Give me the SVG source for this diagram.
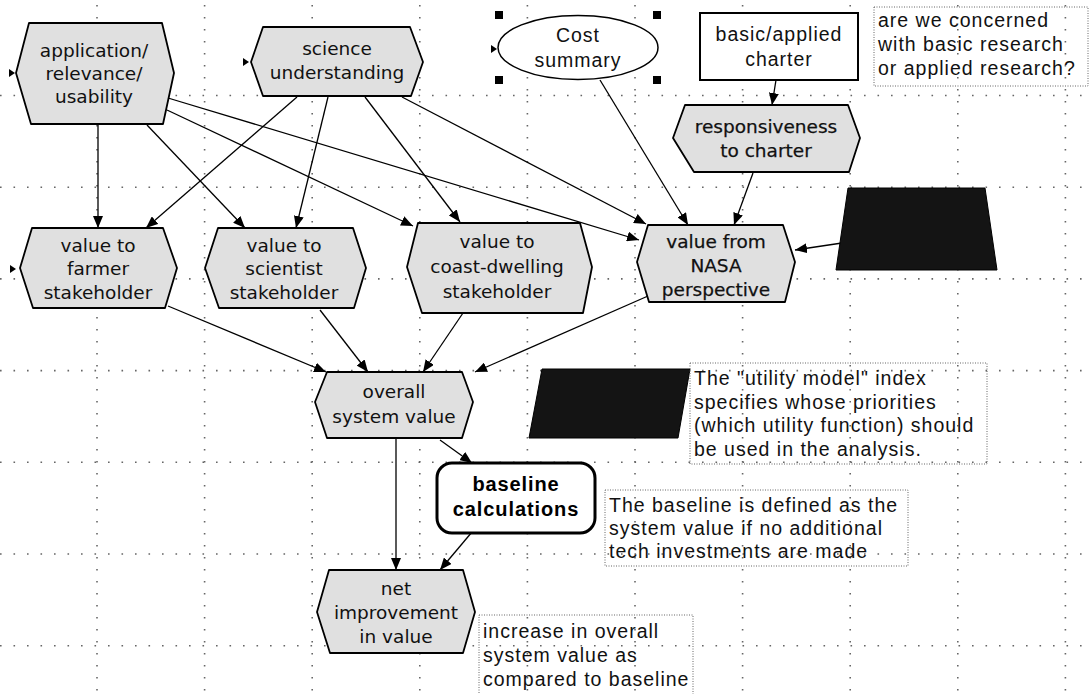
<svg xmlns="http://www.w3.org/2000/svg" width="1090" height="694" viewBox="0 0 1090 694">
<defs>
<marker id="arr" markerWidth="13" markerHeight="10" refX="12" refY="5" orient="auto" markerUnits="userSpaceOnUse"><path d="M0,0 L12,5 L0,10 z" fill="#000"/></marker>
</defs>
<style>
.gh{stroke:#666;stroke-width:1.6;stroke-dasharray:1.6 11.9;fill:none}
.gv{stroke:#666;stroke-width:1.6;stroke-dasharray:1.6 10.4;fill:none}
.hex{fill:#e0e0e0;stroke:#000;stroke-width:1.8;stroke-linejoin:round}
.nt{font-family:"DejaVu Sans",Verdana,sans-serif;font-size:18.5px;fill:#111;text-anchor:middle}
.nb{stroke:#111;stroke-width:0.25}
.pl{font-family:"Liberation Sans",Arial,sans-serif;font-size:19.5px;letter-spacing:1px;fill:#111;text-anchor:middle}
.note{fill:none;stroke:#666;stroke-width:1;stroke-dasharray:1 1.5}
.nx{font-family:"Liberation Sans",Arial,sans-serif;font-size:19.5px;letter-spacing:1px;fill:#111}
.c{stroke:#000;stroke-width:1.3;fill:none;marker-end:url(#arr)}
.in{fill:#000}
</style>
<rect width="1090" height="694" fill="#fff"/>
<g id="grid">
<path class="gh" d="M0,95.5H1090M0,187.2H1090M0,278.9H1090M0,370.6H1090M0,462.3H1090M0,554H1090M0,645.7H1090"/>
<path class="gv" d="M97,5V694M204.6,5V694M312.2,5V694M419.8,5V694M527.4,5V694M635,5V694M742.6,5V694M850.2,5V694M957.8,5V694M1065.4,5V694"/>
</g>
<g id="connectors">
<path class="c" d="M98,124L98,228"/>
<path class="c" d="M147,125L245,228"/>
<path class="c" d="M167,110L413,226"/>
<path class="c" d="M168,98L639,240"/>
<path class="c" d="M297,97L146,228"/>
<path class="c" d="M328,97L296,228"/>
<path class="c" d="M365,97L460,222"/>
<path class="c" d="M402,97L646,224"/>
<path class="c" d="M600,80L688,225"/>
<path class="c" d="M776,80L772,105"/>
<path class="c" d="M753,173L734,225"/>
<path class="c" d="M842,243L795,250"/>
<path class="c" d="M168,306L326,372"/>
<path class="c" d="M320,310L368,372"/>
<path class="c" d="M463,313L423,372"/>
<path class="c" d="M648,296L475,372"/>
<path class="c" d="M396,438L396,570"/>
<path class="c" d="M440,440L472,463"/>
<path class="c" d="M472,532L440,570"/>
</g>
<g id="n-application">
<path class="in" d="M9,69L15,73L9,77Z"/>
<path class="hex" d="M29,23L162,23L174,73L163,124L31,124L16,73Z"/>
<text class="nt" x="94" y="57">application/</text>
<text class="nt" x="94" y="80">relevance/</text>
<text class="nt" x="94" y="103">usability</text>
</g>
<g id="n-science">
<path class="in" d="M243,58L249,62L243,66Z"/>
<path class="hex" d="M263,27L410,27L423,62L411,96L263,96L251,62Z"/>
<text class="nt" x="337" y="55">science</text>
<text class="nt" x="337" y="79">understanding</text>
</g>
<g id="n-cost">
<path class="in" d="M491,45L497,49L491,53Z"/>
<ellipse cx="578" cy="47.5" rx="80" ry="32" fill="#fff" stroke="#000" stroke-width="1.5"/>
<rect x="495" y="11" width="8" height="8" fill="#000"/>
<rect x="653" y="11" width="8" height="8" fill="#000"/>
<rect x="495" y="76" width="8" height="8" fill="#000"/>
<rect x="653" y="76" width="8" height="8" fill="#000"/>
<text class="pl" x="578" y="42">Cost</text>
<text class="pl" x="578" y="67">summary</text>
</g>
<g id="n-charter">
<rect x="700" y="13" width="158" height="67" fill="#fff" stroke="#000" stroke-width="2"/>
<text class="pl" x="779" y="41">basic/applied</text>
<text class="pl" x="779" y="66">charter</text>
</g>
<g id="note-charter">
<rect class="note" x="874" y="7" width="214" height="79"/>
<text class="nx" x="878" y="27">are we concerned</text>
<text class="nx" x="878" y="51">with basic research</text>
<text class="nx" x="878" y="75">or applied research?</text>
</g>
<g id="n-responsiveness">
<path class="hex" d="M685,105L848,105L860,138L849,172L694,172L673,138Z"/>
<text class="nt nb" x="766" y="133">responsiveness</text>
<text class="nt nb" x="766" y="157">to charter</text>
</g>
<g id="n-farmer">
<path class="in" d="M10,265L16,269L10,273Z"/>
<path class="hex" d="M32,228L163,228L177,268L165,308L33,308L20,268Z"/>
<text class="nt" x="98" y="252">value to</text>
<text class="nt" x="98" y="275">farmer</text>
<text class="nt" x="98" y="299">stakeholder</text>
</g>
<g id="n-scientist">
<path class="hex" d="M218,228L353,228L366,268L354,308L219,308L205,268Z"/>
<text class="nt" x="284" y="252">value to</text>
<text class="nt" x="284" y="275">scientist</text>
<text class="nt" x="284" y="299">stakeholder</text>
</g>
<g id="n-coast">
<path class="hex" d="M418,223L580,223L592,267L583,313L422,313L407,267Z"/>
<text class="nt" x="497" y="248">value to</text>
<text class="nt" x="497" y="273">coast-dwelling</text>
<text class="nt" x="497" y="298">stakeholder</text>
</g>
<g id="n-nasa">
<path class="hex" d="M648,225L783,225L795,262L785,302L649,302L637,262Z"/>
<text class="nt nb" x="716" y="248">value from</text>
<text class="nt nb" x="716" y="272">NASA</text>
<text class="nt nb" x="716" y="296">perspective</text>
</g>
<g id="n-trapezoid">
<path d="M848,188L985,188L997,270L836,270Z" fill="#141414" stroke="#000" stroke-width="1"/>
</g>
<g id="n-overall">
<path class="hex" d="M327,372L462,372L473,402L462,438L327,438L315,402Z"/>
<text class="nt" x="394" y="398">overall</text>
<text class="nt" x="394" y="423">system value</text>
</g>
<g id="n-utility">
<path d="M542,369L690,369L678,438L529,438Z" fill="#141414" stroke="#000" stroke-width="1"/>
</g>
<g id="note-utility">
<rect class="note" x="690" y="363" width="297" height="101"/>
<text class="nx" x="694" y="385">The "utility model" index</text>
<text class="nx" x="694" y="409">specifies whose priorities</text>
<text class="nx" x="694" y="432">(which utility function) should</text>
<text class="nx" x="694" y="456">be used in the analysis.</text>
</g>
<g id="n-baseline">
<rect x="437" y="463" width="158" height="70" rx="15" ry="15" fill="#fff" stroke="#000" stroke-width="3"/>
<text x="516" y="491" font-family="Liberation Sans, Arial, sans-serif" font-size="20" font-weight="bold" letter-spacing="0.9" text-anchor="middle" fill="#000">baseline</text>
<text x="516" y="516" font-family="Liberation Sans, Arial, sans-serif" font-size="20" font-weight="bold" letter-spacing="0.9" text-anchor="middle" fill="#000">calculations</text>
</g>
<g id="note-baseline">
<rect class="note" x="605" y="490" width="303" height="76"/>
<text class="nx" x="609" y="512">The baseline is defined as the</text>
<text class="nx" x="609" y="535">system value if no additional</text>
<text class="nx" x="609" y="558">tech investments are made</text>
</g>
<g id="n-net">
<path class="hex" d="M329,570L463,570L475,612L463,653L330,653L317,612Z"/>
<text class="nt" x="396" y="595">net</text>
<text class="nt" x="396" y="619">improvement</text>
<text class="nt" x="396" y="643">in value</text>
</g>
<g id="note-net">
<rect class="note" x="479" y="615" width="214" height="90"/>
<text class="nx" x="483" y="638">increase in overall</text>
<text class="nx" x="483" y="662">system value as</text>
<text class="nx" x="483" y="686">compared to baseline</text>
</g>
</svg>
